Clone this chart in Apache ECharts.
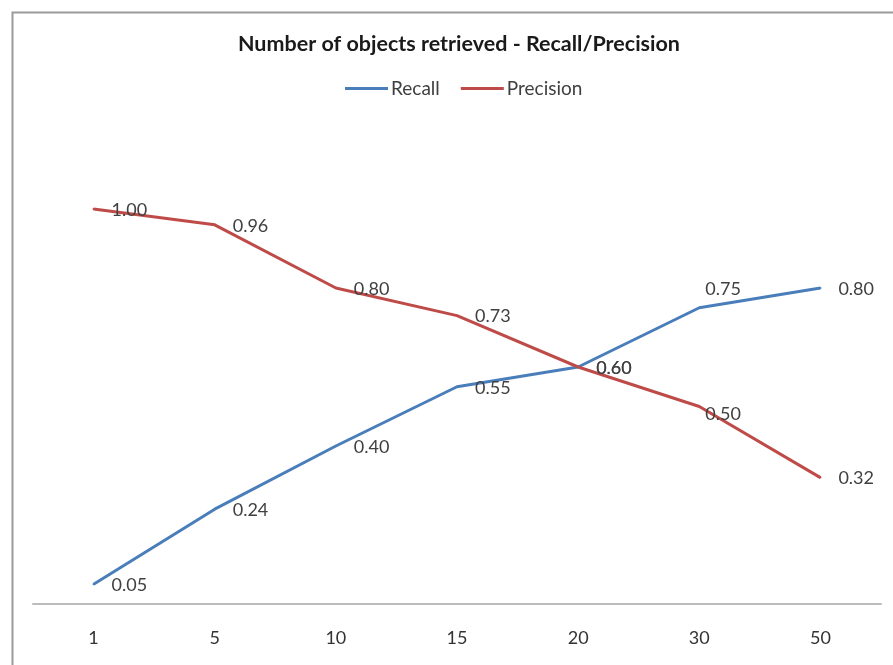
<!DOCTYPE html>
<html>
<head>
<meta charset="utf-8">
<script src="https://cdn.jsdelivr.net/npm/echarts@6/dist/echarts.min.js"></script>
<style>
  html, body { margin: 0; padding: 0; background: #ffffff; }
  #chart { width: 893px; height: 665px; }
</style>
</head>
<body>
<div id="chart"></div>
<script>
// Number of retrieved objects (x axis categories)
const categories = ['1', '5', '10', '15', '20', '30', '50'];
// Recall and precision for each retrieval count
const recall = [0.05, 0.24, 0.40, 0.55, 0.60, 0.75, 0.80];
const precision = [1.00, 0.96, 0.80, 0.73, 0.60, 0.50, 0.32];

const FONT = 'Lato';
const LABEL_COLOR = '#404040';

// Value labels sit to the right of each point; the two at "30" are nudged
// so they don't collide with the lines.
function withLabels(values, overrides) {
  return values.map((v, i) => {
    const item = { value: v };
    if (overrides[i]) item.label = { offset: overrides[i] };
    return item;
  });
}

const baseLabel = {
  show: true,
  position: 'inside',
  align: 'left',
  verticalAlign: 'middle',
  offset: [18, 1],
  color: LABEL_COLOR,
  fontFamily: FONT,
  fontSize: 18,
  formatter: p => p.value.toFixed(2)
};

const chart = echarts.init(document.getElementById('chart'), null, { renderer: 'canvas' });

chart.setOption({
  backgroundColor: '#ffffff',
  animation: false,
  graphic: [{
    type: 'rect',
    left: 10, top: 10,
    shape: { width: 900, height: 700 },
    style: { fill: 'none', stroke: '#9a9a9a', lineWidth: 2 },
    silent: true
  }],
  title: {
    text: 'Number of objects retrieved - Recall/Precision',
    left: 233,
    top: 28,
    textStyle: { fontFamily: FONT, fontWeight: 'bold', fontSize: 21.5, color: '#1a1a1a' }
  },
  legend: {
    top: 74,
    left: 340,
    itemWidth: 43,
    itemHeight: 3,
    itemGap: 21,
    icon: 'rect',
    textStyle: { fontFamily: FONT, fontSize: 19, color: '#404040', padding: [0, 0, 0, -2] },
    data: ['Recall', 'Precision']
  },
  grid: { left: 33, right: 12, top: 130, bottom: 61, containLabel: false },
  xAxis: {
    type: 'category',
    data: categories,
    boundaryGap: true,
    axisLine: { lineStyle: { color: '#bcbcbc', width: 2 } },
    axisTick: { show: false },
    axisLabel: { margin: 25, fontFamily: FONT, fontSize: 18, color: '#333333' }
  },
  yAxis: {
    type: 'value',
    min: 0, max: 1.2,
    show: false,
    splitLine: { show: false }
  },
  series: [
    {
      name: 'Recall',
      type: 'line',
      data: withLabels(recall, { 5: [6, -19] }),
      symbol: 'circle',
      symbolSize: 2,
      itemStyle: { color: '#4A7EBB' },
      lineStyle: { color: '#4A7EBB', width: 3 },
      label: baseLabel
    },
    {
      name: 'Precision',
      type: 'line',
      data: withLabels(precision, { 5: [6, 8] }),
      symbol: 'circle',
      symbolSize: 2,
      itemStyle: { color: '#BE4B48' },
      lineStyle: { color: '#BE4B48', width: 3 },
      label: baseLabel
    }
  ]
});
</script>
</body>
</html>
